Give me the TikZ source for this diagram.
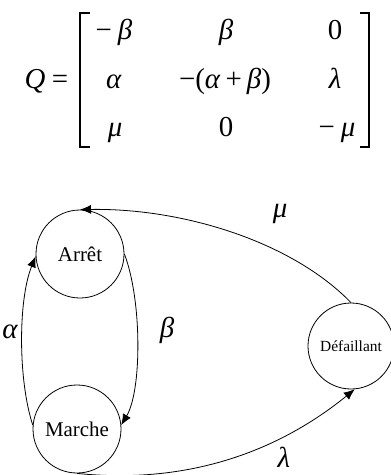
\documentclass[tikz,border=0pt]{standalone}
\usepackage{fontspec}
\setmainfont{Liberation Serif}
\usetikzlibrary{arrows.meta}
\tikzset{
  stateA/.style={circle, draw, line width=0.8bp, minimum size=88bp, inner sep=0pt, font=\fontsize{21}{24}\selectfont},
  stateB/.style={circle, draw, line width=0.8bp, minimum size=86bp, inner sep=0pt, font=\fontsize{15.5}{18}\selectfont},
  entry/.style={anchor=base, inner sep=0pt, font=\fontsize{29}{34}\selectfont},
  lab/.style={inner sep=0pt, font=\fontsize{29}{34}\selectfont\itshape},
  brk/.style={line width=1.1bp},
  edge/.style={line width=0.8bp, -{Latex[length=11bp,width=9bp]}}
}
\begin{document}
\begin{tikzpicture}[x=1bp,y=-1bp]
\path[use as bounding box] (0,0) rectangle (390,475);
% matrix
\node[entry] (q) at (35,89) {\textit{Q}};
\node[entry] (eq) at (60,89) {=};
\coordinate (lt) at (90,13);
\coordinate (lb) at (90,147);
\coordinate (rt) at (360,13);
\coordinate (rb) at (360,147);
\draw[brk] (lt) -- (80,13) -- (80,147) -- (lb);
\draw[brk] (rt) -- (369,13) -- (369,147) -- (rb);
\node[entry] (m11) at (114,40) {−\hspace{6bp}\textit{β}};
\node[entry] (m12) at (226,40) {\textit{β}};
\node[entry] (m13) at (335,40) {0};
\node[entry] (m21) at (114,89) {\textit{α}};
\node[entry] (m22) at (225,89) {−(\textit{α}\hspace{5bp}+\hspace{5bp}\textit{β})};
\node[entry] (m23) at (335,89) {\textit{λ}};
\node[entry] (m31) at (115,137) {\textit{μ}};
\node[entry] (m32) at (226,137) {0};
\node[entry] (m33) at (337,137) {−\hspace{6bp}\textit{μ}};
% states
\node[stateA] (arret) at (80,254) {Arrêt};
\node[stateA] (marche) at (77,429) {Marche};
\node[stateB] (def) at (351,346) {Défaillant};
% edges
\draw[edge] (def.north) .. controls (290,240) and (180,208) .. (arret.north);
\draw[edge] (arret.east) .. controls (142,300) and (142,390) .. (marche.5);
\draw[edge] (marche.175) .. controls (18,380) and (18,300) .. (arret.183);
\draw[edge] (marche.south) .. controls (190,485) and (280,450) .. (def.-85);
% labels
\node[lab] (mu) at (280,214) {μ};
\node[lab] (be) at (167,330) {β};
\node[lab] (al) at (10,332) {α};
\node[lab] (la) at (284,457) {λ};
\end{tikzpicture}
\end{document}
